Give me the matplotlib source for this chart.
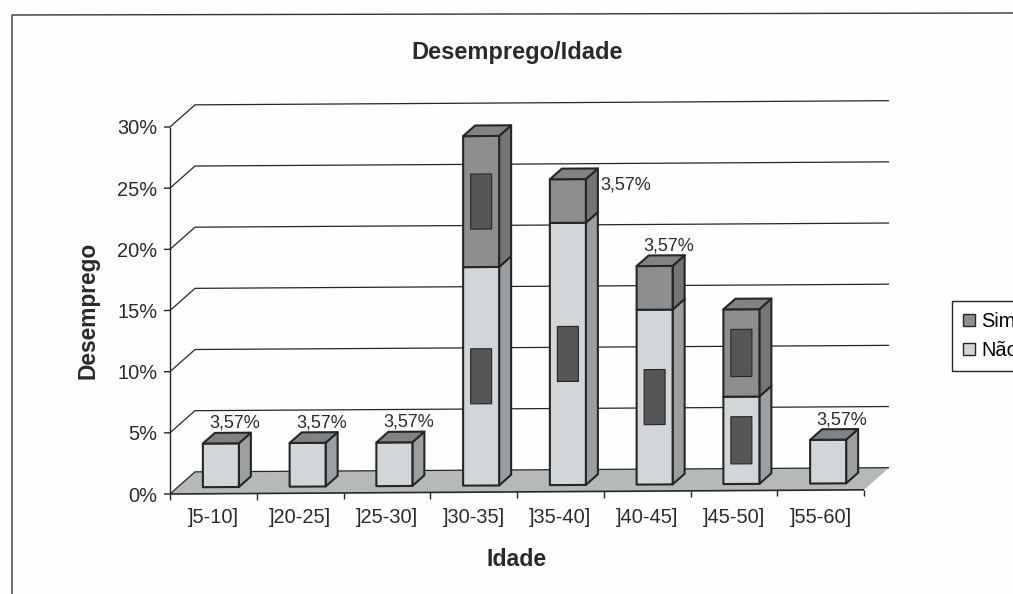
import matplotlib
matplotlib.use("Agg")
import matplotlib.pyplot as plt
from matplotlib.lines import Line2D
from matplotlib.patches import Patch, Polygon
from matplotlib.transforms import Affine2D

plt.rcParams['font.family'] = ['Liberation Sans', 'DejaVu Sans']

# ---- data ----
categories = [']5-10]', ']20-25]', ']25-30]', ']30-35]', ']35-40]', ']40-45]', ']45-50]', ']55-60]']
nao = [3.57, 3.57, 3.57, 17.86, 21.43, 14.29, 7.14, 3.57]
sim = [0, 0, 0, 10.71, 3.57, 3.57, 7.14, 0]
y_ticks = [0, 5, 10, 15, 20, 25, 30]
y_tick_labels = ['0%', '5%', '10%', '15%', '20%', '25%', '30%']
outside_label = '3,57%'

# ---- style ----
W, H = 1013, 594
INK = '#262626'
TXT = '#2a2a2a'
NAO = dict(front='#d3d6d8', side='#9c9fa1')
SIM = dict(front='#8c8e90', side='#737577')
TOP = '#808284'
FLOOR = '#b6b9b9'
BOX = '#565656'
FS_TICK, FS_LABEL = 14.4, 13.0

fig = plt.figure(figsize=(W / 100, H / 100), dpi=100, facecolor='#fefefd')
ax = fig.add_axes([170 / W, 1 - 494 / H, 694 / W, 367 / H])
ax.set_xlim(0, 8)
ax.set_ylim(0, 30)
ax.patch.set_visible(False)
for s in ax.spines.values():
    s.set_visible(False)

# the scanned page is slightly sheared: right-hand side sits higher
k = 0.006
shear = Affine2D.from_values(1, k, 0, 1, 0, -k * 170)
tr = ax.transData + shear

# depth of the floor, in data units
DX = 25 / (694 / 8)
DY = 22 / (367 / 30)


def pr(x, y, d=0.0):
    return (x + d * DX, y + d * DY)


def line(pts, lw=1.0, color=INK, z=2):
    ax.add_line(Line2D([p[0] for p in pts], [p[1] for p in pts], color=color, lw=lw,
                       transform=tr, clip_on=False, zorder=z, solid_capstyle='butt'))


def poly(pts, face, lw=1.5, z=3, edge=INK):
    ax.add_patch(Polygon(pts, closed=True, facecolor=face, edgecolor=edge, lw=lw,
                         transform=tr, clip_on=False, zorder=z, joinstyle='round'))


# floor
n = len(categories)
poly([pr(0, 0), pr(0, 0, 1), pr(n, 0, 1), pr(n, 0)], FLOOR, lw=0, z=1, edge='none')
line([pr(0, 0), pr(0, 0, 1), pr(n, 0, 1)], lw=0.9, z=1.5)

# back-wall gridlines
for v in y_ticks[1:]:
    line([pr(0, v), pr(0, v, 1), pr(n, v, 1)], lw=0.9, z=1.5)

# axes
line([(0, 0), (0, 30)], lw=1.0)
line([(0, 0), (n, 0)], lw=1.2)
for v in y_ticks:
    line([(-0.07, v), (0, v)], lw=1.0)
for i in range(n + 1):
    line([(i, 0), (i, -0.5)], lw=1.0)

# bars
D0, D1 = 0.3, 0.78
BW = 36 / (694 / 8)
BOXW = 21 / (694 / 8)
z = 3.0


def segment(x0, x1, y0, y1, col):
    global z
    poly([pr(x1, y0, D0), pr(x1, y0, D1), pr(x1, y1, D1), pr(x1, y1, D0)], col['side'], z=z)
    poly([pr(x0, y0, D0), pr(x1, y0, D0), pr(x1, y1, D0), pr(x0, y1, D0)], col['front'], z=z + 0.01)
    z += 0.02


for i, (a, b) in enumerate(zip(nao, sim)):
    c = i + 0.5
    x0, x1 = c - BW / 2, c + BW / 2
    segment(x0, x1, 0, a, NAO)
    if b > 0:
        segment(x0, x1, a, a + b, SIM)
    top = a + b
    poly([pr(x0, top, D0), pr(x1, top, D0), pr(x1, top, D1), pr(x0, top, D1)], TOP, z=z)
    z += 0.02
    # redacted value boxes, centred on each large segment
    for lo, hi in ((0, a), (a, a + b)):
        seg = hi - lo
        if seg > 4:
            mid, h = (lo + hi) / 2, min(4.5, 0.54 * seg)
            bx = pr(c, mid, D0)
            poly([(bx[0] - BOXW / 2, bx[1] - h / 2), (bx[0] + BOXW / 2, bx[1] - h / 2),
                  (bx[0] + BOXW / 2, bx[1] + h / 2), (bx[0] - BOXW / 2, bx[1] + h / 2)],
                 BOX, lw=0.8, z=z)
            z += 0.02
    # outside value label on a top segment of one unit
    topseg = b if b > 0 else a
    if topseg < 4:
        if i == 4:
            off = (42, -4.5)   # sits beside the taller bar
        else:
            off = (10, 14.5)
        ax.annotate(outside_label, xy=pr(c, top, D0), xycoords=tr, xytext=off,
                    textcoords='offset points', ha='center', va='center',
                    fontsize=FS_LABEL, color=TXT, zorder=50, annotation_clip=False)

# tick labels
ax.set_xticks([i + 0.5 for i in range(n)])
ax.set_xticklabels(categories, fontsize=FS_TICK, color=TXT)
ax.set_yticks(y_ticks)
ax.set_yticklabels(y_tick_labels, fontsize=FS_TICK, color=TXT)
ax.tick_params(axis='x', length=0, pad=10)
ax.tick_params(axis='y', length=0, pad=9)

ax.set_title('Desemprego/Idade', fontsize=17, fontweight='bold', color=TXT, pad=49)
ax.set_xlabel('Idade', fontsize=16.6, fontweight='bold', color=TXT, labelpad=15)
ax.set_ylabel('Desemprego', fontsize=16.4, fontweight='bold', color=TXT, labelpad=13)

# legend, running off the right edge of the scan as in the reference
leg = ax.legend(handles=[Patch(facecolor=SIM['front'], edgecolor=INK, label='Sim'),
                         Patch(facecolor=NAO['front'], edgecolor=INK, label='Não')],
                loc='lower left', bbox_to_anchor=(952 / W, 1 - 371 / H),
                bbox_transform=fig.transFigure, fontsize=FS_TICK, frameon=True, fancybox=False,
                edgecolor=INK, framealpha=1, handlelength=0.6, handleheight=0.6,
                handletextpad=0.3, labelspacing=0.5, borderaxespad=0, borderpad=0.55)
leg.get_frame().set_linewidth(1.0)

# outer chart border
fig.add_artist(Line2D([12 / W, 12 / W, 1], [0, 1 - 15 / H, 1 - 13 / H], color='#333333', lw=1.0,
                      transform=fig.transFigure))

fig.savefig('out.png', dpi=100, facecolor=fig.get_facecolor())
